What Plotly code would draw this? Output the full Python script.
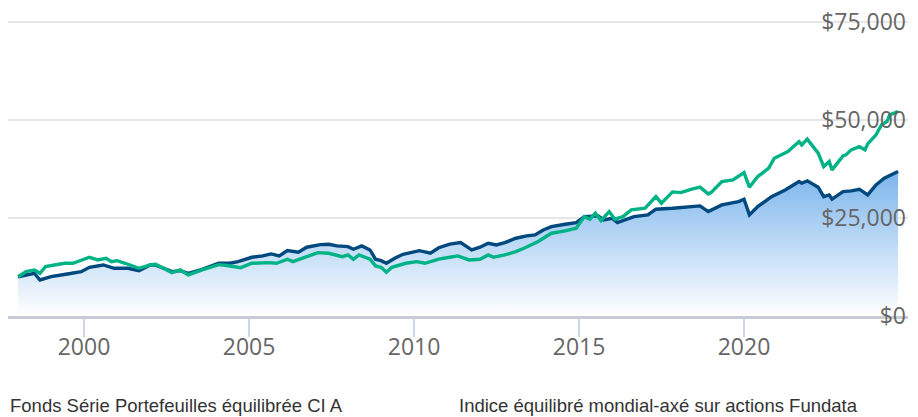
import plotly.graph_objects as go

fund_dates = ["1998-01","1998-07","1998-09","1999-01","1999-07","1999-12","2000-03","2000-08","2000-12",
"2001-05","2001-09","2002-01","2002-03","2002-09","2002-12","2003-03","2003-08","2004-02","2004-06","2004-09",
"2005-02","2005-06","2005-09","2005-12","2006-03","2006-07","2006-10","2007-03","2007-06","2007-09","2008-01",
"2008-03","2008-06","2008-09","2008-11","2009-01","2009-03","2009-06","2009-09","2010-01","2010-03","2010-07",
"2010-10","2011-02","2011-06","2011-10","2012-01","2012-04","2012-07","2012-10","2013-02","2013-06","2013-09",
"2013-12","2014-03","2014-08","2014-12","2015-03","2015-06","2015-08","2015-10","2016-01","2016-03","2016-06",
"2016-09","2017-02","2017-05","2017-11","2018-04","2018-09","2018-12","2019-05","2019-11","2020-01","2020-03",
"2020-06","2020-11","2021-04","2021-09","2021-10","2021-12","2022-04","2022-06","2022-08","2022-09","2023-01",
"2023-04","2023-07","2023-10","2024-01","2024-04","2024-06","2024-09"]
fund_values = [10000,10890,9180,10030,10710,11300,12420,13010,12170,
12170,11560,13010,13010,11300,11560,10890,11910,13440,13440,13850,
14970,15310,15820,15310,16660,16250,17530,18190,18290,17860,17680,
17020,17860,16840,14460,14110,13440,14720,15740,16400,16660,16000,
17400,18330,18700,16840,17530,18550,18110,18700,19820,20410,20660,
21940,22780,23390,23800,25330,25330,25510,24490,24920,23800,24490,
25330,25770,27220,27450,27730,28060,26610,28320,29160,29770,25770,
27880,30430,32140,34260,33850,34440,32830,30430,30870,29770,31710,
31890,32320,30870,33420,35130,35710,36810]

index_dates = ["1998-01","1998-04","1998-07","1998-09","1998-11","1999-02","1999-06","1999-09","1999-12",
"2000-03","2000-06","2000-09","2000-11","2001-01","2001-04","2001-09","2002-01","2002-03","2002-06","2002-09",
"2002-12","2003-03","2003-08","2004-02","2004-05","2004-10","2005-02","2005-08","2005-11","2006-03","2006-05",
"2006-10","2007-02","2007-06","2007-11","2008-01","2008-03","2008-05","2008-09","2008-11","2009-01","2009-03",
"2009-05","2009-10","2010-02","2010-05","2010-10","2011-02","2011-05","2011-09","2012-01","2012-04","2012-06",
"2012-10","2013-02","2013-05","2013-10","2014-03","2014-08","2014-12","2015-03","2015-05","2015-07","2015-09",
"2015-12","2016-02","2016-05","2016-08","2017-01","2017-05","2017-07","2017-11","2018-02","2018-06","2018-09",
"2018-12","2019-01","2019-05","2019-09","2020-01","2020-03","2020-06","2020-10","2020-12","2021-05","2021-09",
"2021-10","2021-12","2022-04","2022-06","2022-08","2022-09","2023-01","2023-02","2023-04","2023-07","2023-09",
"2023-10","2024-01","2024-03","2024-05","2024-06","2024-09"]
index_values = [10000,11300,11740,10890,12580,13010,13440,13440,14290,
14970,14290,14720,13850,14110,13440,12170,13010,13190,12170,11050,
11740,10460,11740,13100,12880,12320,13440,13600,13440,14460,13850,
15130,16150,16000,15130,15560,14460,15560,14460,12760,12420,11150,
12420,13440,13850,13440,14500,14970,15310,14290,14460,15560,14970,
15560,16400,17270,18950,21100,21680,22370,25330,24670,26200,24310,
26610,24670,25330,27040,27470,30430,28750,31630,31450,32320,32830,
31120,31450,34260,34690,36560,32830,35540,37680,40230,41910,44460,
43620,45080,41510,38090,39360,37250,40820,41070,42350,43190,42350,
43880,46170,48720,49570,51280,52120]

y_ticks = [0, 25000, 50000, 75000]
y_tick_labels = ["$0", "$25,000", "$50,000", "$75,000"]
series_names = ["Fonds Série Portefeuilles équilibrée CI A",
                "Indice équilibré mondial-axé sur actions Fundata"]

fig = go.Figure()
fig.add_trace(go.Scatter(
    x=[d + "-01" for d in fund_dates], y=fund_values, mode="lines",
    name=series_names[0],
    line=dict(color="#00497f", width=3.4),
    fill="tozeroy",
    fillgradient=dict(type="vertical", start=0, stop=max(fund_values),
                      colorscale=[[0, "rgba(255,255,255,1)"], [1, "rgb(124,181,236)"]]),
))
fig.add_trace(go.Scatter(
    x=[d + "-01" for d in index_dates], y=index_values, mode="lines",
    name=series_names[1],
    line=dict(color="#00b386", width=3.4),
))

fig.update_layout(
    width=918, height=417,
    margin=dict(l=8, r=10, t=10, b=101),
    paper_bgcolor="white", plot_bgcolor="white",
    showlegend=False,
    font=dict(family="Open Sans", color="#666666"),
)
fig.update_xaxes(
    type="date",
    range=["1997-09-12", "2024-12-20"],
    tick0="2000-01-01", dtick="M60", tickformat="%Y",
    ticks="outside", ticklen=18, tickcolor="#ccd6eb", tickwidth=1.5,
    ticklabelstandoff=-10,
    showline=True, linecolor="#c6cbd6", linewidth=3,
    showgrid=False, zeroline=False,
    tickfont=dict(size=23, color="#666666", family="Open Sans"),
)
fig.update_yaxes(
    range=[0, 78000], side="left", anchor="free", position=0.9978,
    tickvals=y_ticks, ticktext=y_tick_labels,
    ticklabelposition="outside", ticklabeloverflow="allow", automargin=False,
    showgrid=True, gridcolor="#e6e6e6", gridwidth=2,
    zeroline=False, showline=False,
    tickfont=dict(size=23, color="#666666", family="Open Sans"),
)
fig.add_annotation(text=series_names[0], xref="paper", yref="paper", x=0, y=-0.291,
                   xanchor="left", yanchor="middle", showarrow=False,
                   font=dict(family="Liberation Sans", size=18.5, color="#333333"))
fig.add_annotation(text=series_names[1], xref="paper", yref="paper", x=0.499, y=-0.291,
                   xanchor="left", yanchor="middle", showarrow=False,
                   font=dict(family="Liberation Sans", size=18.5, color="#333333"))

fig.write_html("out.html", config={"displayModeBar": False},
               post_script="document.body.style.margin='0';")
